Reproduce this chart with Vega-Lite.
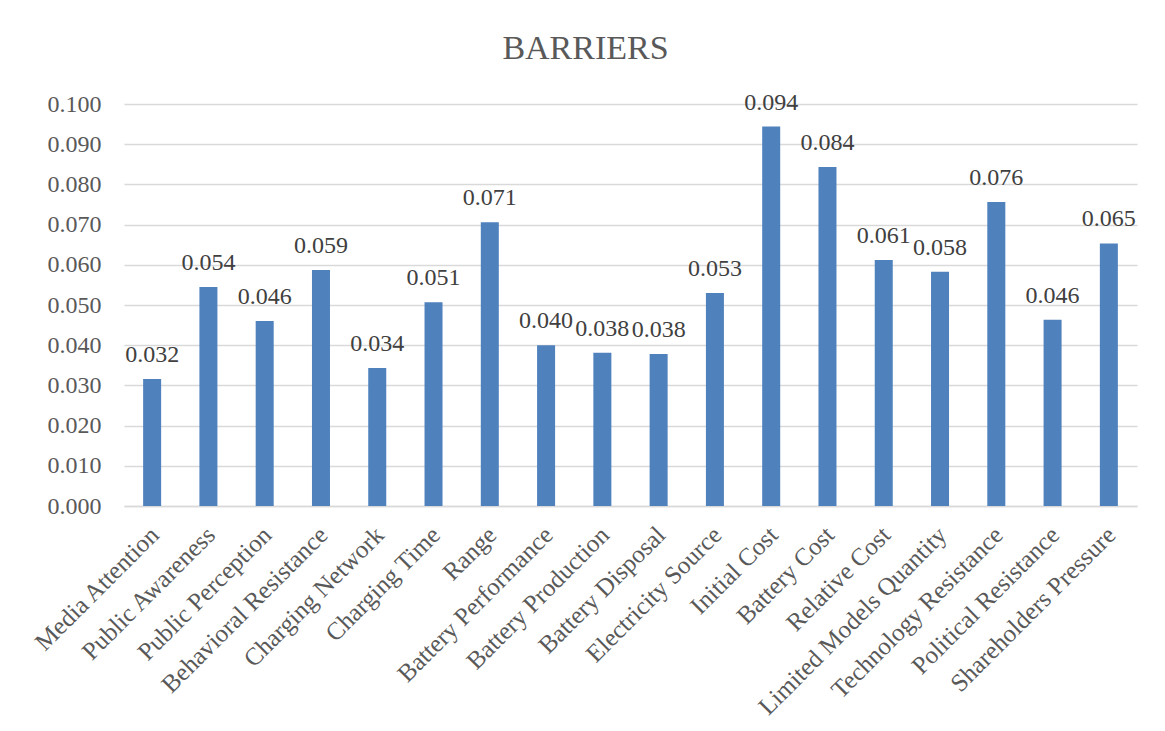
{
  "$schema": "https://vega.github.io/schema/vega-lite/v6.json",
  "autosize": {"type": "none"},
  "padding": {"left": 124, "top": 104, "right": 28, "bottom": 225},
  "width": 1013,
  "height": 402,
  "background": "white",
  "title": {"text": "BARRIERS", "fontSize": 34, "font": "Liberation Serif", "fontWeight": "normal", "color": "#595959", "anchor": "middle", "offset": 25, "dx": -45},
  "data": {"values": [
    {"barrier": "Media Attention", "value": 0.0316},
    {"barrier": "Public Awareness", "value": 0.0545},
    {"barrier": "Public Perception", "value": 0.0460},
    {"barrier": "Behavioral Resistance", "value": 0.0587},
    {"barrier": "Charging Network", "value": 0.0343},
    {"barrier": "Charging Time", "value": 0.0507},
    {"barrier": "Range", "value": 0.0706},
    {"barrier": "Battery Performance", "value": 0.0400},
    {"barrier": "Battery Production", "value": 0.0381},
    {"barrier": "Battery Disposal", "value": 0.0378},
    {"barrier": "Electricity Source", "value": 0.0530},
    {"barrier": "Initial Cost", "value": 0.0944},
    {"barrier": "Battery Cost", "value": 0.0843},
    {"barrier": "Relative Cost", "value": 0.0612},
    {"barrier": "Limited Models Quantity", "value": 0.0583},
    {"barrier": "Technology Resistance", "value": 0.0756},
    {"barrier": "Political Resistance", "value": 0.0463},
    {"barrier": "Shareholders Pressure", "value": 0.0653}
  ]},
  "encoding": {
    "x": {"field": "barrier", "type": "nominal", "sort": null, "title": null,
      "scale": {"paddingInner": 0.68, "paddingOuter": 0.34},
      "axis": {"labelAngle": -45, "labelFont": "Liberation Serif", "labelFontSize": 25, "labelColor": "#595959", "ticks": false, "domainColor": "#d9d9d9", "domainWidth": 1.5, "labelPadding": 16, "labelOffset": -6, "labelLimit": 400, "labelOverlap": false}},
    "y": {"field": "value", "type": "quantitative", "title": null,
      "scale": {"domain": [0, 0.1], "nice": false},
      "axis": {"format": ".3f", "values": [0,0.01,0.02,0.03,0.04,0.05,0.06,0.07,0.08,0.09,0.1], "labelOverlap": false, "labelFont": "Liberation Serif", "labelFontSize": 24, "labelColor": "#595959", "ticks": false, "domain": false, "gridColor": "#d9d9d9", "gridWidth": 1.5, "labelPadding": 23}}
  },
  "layer": [
    {"mark": {"type": "bar", "color": "#4F81BD"}},
    {"mark": {"type": "text", "baseline": "bottom", "dy": -12, "font": "Liberation Serif", "fontSize": 24, "color": "#404040"},
     "encoding": {"text": {"field": "value", "type": "quantitative", "format": ".3f"}}}
  ],
  "config": {"view": {"stroke": null}}
}
